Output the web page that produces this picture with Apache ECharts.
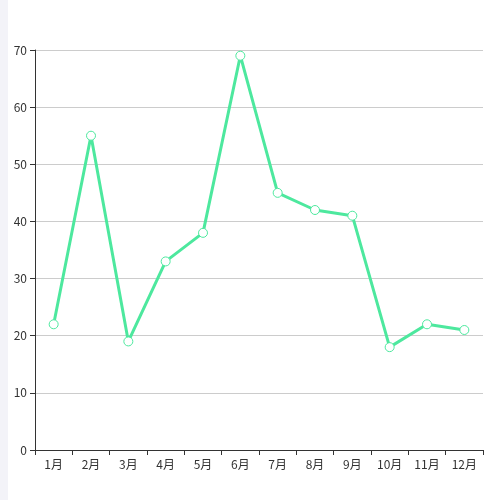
<!DOCTYPE html>
<html>
<head>
<meta charset="utf-8">
<script src="https://cdn.jsdelivr.net/npm/echarts@6/dist/echarts.min.js"></script>
<style>
  html, body { margin: 0; padding: 0; background: #f3f3f8; }
  #main { position: absolute; left: 8px; top: 0; width: 492px; height: 500px; background: #fff; }
</style>
</head>
<body>
<div id="main"></div>
<script>
var months = ['1月', '2月', '3月', '4月', '5月', '6月', '7月', '8月', '9月', '10月', '11月', '12月'];
var values = [22, 55, 19, 33, 38, 69, 45, 42, 41, 18, 22, 21];

var myChart = echarts.init(document.getElementById('main'), null, { renderer: 'canvas' });

var option = {
    animation: false,
    textStyle: { fontFamily: '"Noto Sans CJK SC", sans-serif' },
    grid: { left: 27, right: 17, top: 50, bottom: 50 },
    xAxis: {
        type: 'category',
        data: months,
        axisLine: { show: true, lineStyle: { color: '#333' } },
        axisTick: { show: true, alignWithLabel: false, lineStyle: { color: '#333' } },
        axisLabel: { color: '#333', fontSize: 12 }
    },
    yAxis: {
        type: 'value',
        min: 0,
        max: 70,
        interval: 10,
        axisLine: { show: true, lineStyle: { color: '#333' } },
        axisTick: { show: true, lineStyle: { color: '#333' } },
        axisLabel: { color: '#333', fontSize: 12 },
        splitLine: { lineStyle: { color: '#ccc' } }
    },
    series: [{
        type: 'line',
        data: values,
        symbol: 'circle',
        symbolSize: 9,
        lineStyle: { color: '#4de89e', width: 3 },
        itemStyle: { color: '#fff', borderColor: '#4de89e', borderWidth: 1 }
    }]
};

myChart.setOption(option);
</script>
</body>
</html>
